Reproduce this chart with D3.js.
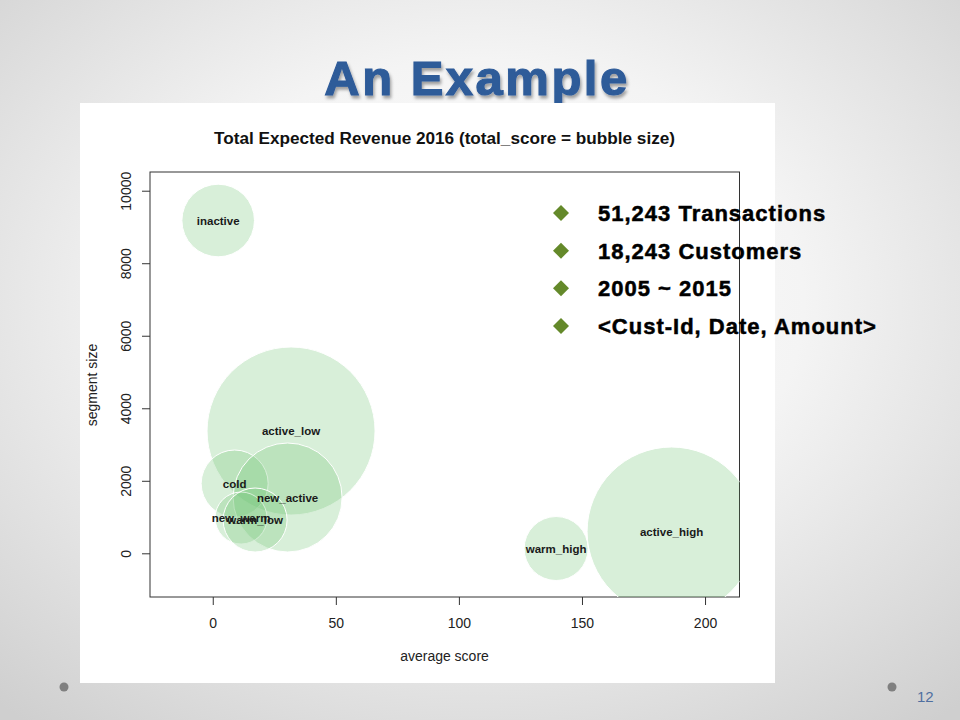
<!DOCTYPE html>
<html>
<head>
<meta charset="utf-8">
<script src="https://cdn.jsdelivr.net/npm/d3@7"></script>
<style>
  html, body { margin: 0; padding: 0; background: #fff; }
  svg { display: block; font-family: "Liberation Sans", Arial, sans-serif; }
</style>
</head>
<body>
<svg id="chart" width="960" height="720"></svg>
<script>
// ---------- data ----------
const segments    = ["inactive", "active_low", "cold", "new_active", "new_warm", "warm_low", "warm_high", "active_high"];
const avgScore    = [2.2, 31.8, 8.9, 30.4, 11.5, 17.2, 139.5, 186.4];
const segmentSize = [9178, 3373, 1925, 1539, 973, 918, 132, 601];
const totalScore  = [20850, 111700, 17760, 47000, 10700, 16200, 16200, 113000];
const xTicks = [0, 50, 100, 150, 200];
const yTicks = [0, 2000, 4000, 6000, 8000, 10000];
const bullets = ["51,243 Transactions", "18,243 Customers", "2005 ~ 2015", "<Cust-Id, Date, Amount>"];
const slideTitle = "An Example";
const chartTitle = "Total Expected Revenue 2016 (total_score = bubble size)";
const xLabel = "average score";
const yLabel = "segment size";
const pageNumber = "12";

const rows = segments.map((s, i) => ({ name: s, x: avgScore[i], y: segmentSize[i], t: totalScore[i] }));

// ---------- layout ----------
const svg = d3.select("#chart");
const defs = svg.append("defs");

const bg = defs.append("radialGradient").attr("id", "bg")
  .attr("cx", "50%").attr("cy", "42%").attr("r", "75%");
bg.append("stop").attr("offset", "0%").attr("stop-color", "#ffffff");
bg.append("stop").attr("offset", "45%").attr("stop-color", "#f4f4f4");
bg.append("stop").attr("offset", "100%").attr("stop-color", "#cfcfcf");

const shadow = defs.append("filter").attr("id", "shadow")
  .attr("x", "-10%").attr("y", "-20%").attr("width", "130%").attr("height", "160%");
shadow.append("feDropShadow").attr("dx", 1.5).attr("dy", 3).attr("stdDeviation", 1.6)
  .attr("flood-color", "#000").attr("flood-opacity", 0.35);

svg.append("rect").attr("width", 960).attr("height", 720).attr("fill", "url(#bg)");

// slide title
svg.append("text").attr("x", 477).attr("y", 95).attr("text-anchor", "middle")
  .attr("font-size", 49).attr("font-weight", "bold").attr("letter-spacing", 2.5)
  .attr("fill", "#2e5b99").attr("stroke", "#2e5b99").attr("stroke-width", 1.2)
  .attr("filter", "url(#shadow)").text(slideTitle);

// white chart panel
svg.append("rect").attr("x", 80).attr("y", 103).attr("width", 695).attr("height", 580).attr("fill", "#fff");

// plot area
const pl = 150, pr = 739.5, pt = 172, pb = 597;
const x = d3.scaleLinear().domain([-25.5, 214]).range([pl, pr]);
const y = d3.scaleLinear().domain([-1205, 10516]).range([pb, pt]);
const r = d3.scaleSqrt().domain([0, d3.max(totalScore)]).range([0, 84.5]);

defs.append("clipPath").attr("id", "plotclip").append("rect")
  .attr("x", pl).attr("y", pt).attr("width", pr - pl).attr("height", pb - pt);

// chart title
svg.append("text").attr("x", 444.5).attr("y", 144).attr("text-anchor", "middle")
  .attr("font-size", 16).attr("font-weight", "bold").attr("fill", "#111")
  .attr("textLength", 461).attr("lengthAdjust", "spacingAndGlyphs").text(chartTitle);

// box
svg.append("rect").attr("x", pl).attr("y", pt).attr("width", pr - pl).attr("height", pb - pt)
  .attr("fill", "none").attr("stroke", "#333").attr("stroke-width", 1);

// bubbles
const bub = svg.append("g").attr("clip-path", "url(#plotclip)");
bub.selectAll("circle").data(rows).join("circle")
  .attr("cx", d => x(d.x)).attr("cy", d => y(d.y)).attr("r", d => r(d.t))
  .attr("fill", "#74c476").attr("fill-opacity", 0.28)
  .attr("stroke", "#fff").attr("stroke-width", 1);

svg.append("g").selectAll("text").data(rows).join("text")
  .attr("x", d => x(d.x)).attr("y", d => y(d.y)).attr("dy", "0.35em")
  .attr("text-anchor", "middle").attr("font-size", 11.5).attr("font-weight", "bold")
  .attr("fill", "#1a1a1a").text(d => d.name);

// x axis
const gx = svg.append("g").attr("transform", `translate(0,${pb})`)
  .call(d3.axisBottom(x).tickValues(xTicks).tickSize(8).tickPadding(13).tickFormat(d3.format("d")));
gx.select(".domain").remove();
gx.selectAll("line").attr("stroke", "#333");
gx.selectAll("text").attr("font-size", 14).attr("fill", "#222").attr("font-family", "Liberation Sans, Arial, sans-serif");

// y axis
const gy = svg.append("g").attr("transform", `translate(${pl},0)`)
  .call(d3.axisLeft(y).tickValues(yTicks).tickSize(8).tickFormat(d3.format("d")));
gy.select(".domain").remove();
gy.selectAll("line").attr("stroke", "#333");
gy.selectAll("text")
  .attr("transform", "rotate(-90)")
  .attr("x", 0).attr("y", -19).attr("dy", 0)
  .attr("text-anchor", "middle")
  .attr("font-size", 14).attr("fill", "#222").attr("font-family", "Liberation Sans, Arial, sans-serif");

// axis labels
svg.append("text").attr("x", 444.5).attr("y", 661).attr("text-anchor", "middle")
  .attr("font-size", 14).attr("fill", "#222").text(xLabel);
svg.append("text").attr("transform", "translate(96.5,385) rotate(-90)").attr("text-anchor", "middle")
  .attr("font-size", 14).attr("fill", "#222").text(yLabel);

// bullets
const by = d3.scaleLinear().domain([0, bullets.length - 1]).range([221, 334]);
const bg2 = svg.append("g");
bg2.selectAll("path").data(bullets).join("path")
  .attr("d", d3.symbol(d3.symbolSquare, 128))
  .attr("transform", (d, i) => `translate(561,${by(i) - 8}) rotate(45)`)
  .attr("fill", "#64892a");
bg2.selectAll("text").data(bullets).join("text")
  .attr("x", 598).attr("y", (d, i) => by(i))
  .attr("font-size", 22).attr("font-weight", "bold").attr("letter-spacing", 1)
  .attr("fill", "#000").attr("stroke", "#000").attr("stroke-width", 0.5).text(d => d);

// footer
svg.append("circle").attr("cx", 64).attr("cy", 687).attr("r", 4.5).attr("fill", "#808080");
svg.append("circle").attr("cx", 892).attr("cy", 687).attr("r", 4.5).attr("fill", "#808080");
svg.append("text").attr("x", 917).attr("y", 702).attr("font-size", 15)
  .attr("fill", "#4f6fa0").text(pageNumber);
</script>
</body>
</html>
